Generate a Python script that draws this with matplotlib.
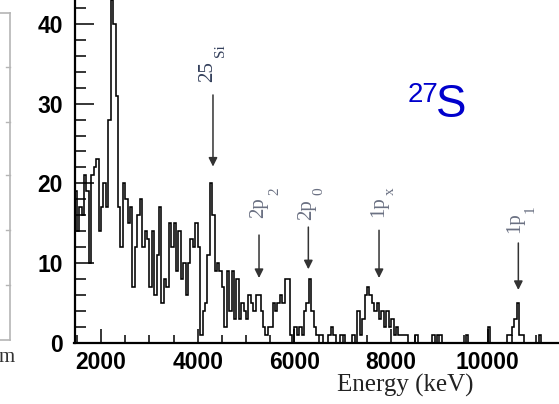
import numpy as np
import matplotlib
matplotlib.use("Agg")
import matplotlib.pyplot as plt
from matplotlib.lines import Line2D
from matplotlib.ticker import MultipleLocator

# ---- data -------------------------------------------------------------
bin_lo = 1450      # keV, first bin edge
bin_width = 50     # keV
counts = [
    19, 14, 17, 16, 21, 19, 10, 21, 22, 23, 14,             # 1450-1950
    17, 20, 17, 28, 43, 40, 31, 17, 12, 20,                 # 2000-2450
    18, 15, 17, 7, 12, 16, 18, 12, 14, 13,                  # 2500-2950
    7, 14, 6, 11, 17, 5, 8, 7, 15, 12,                      # 3000-3450
    15, 9, 14, 8, 10, 6, 10, 13, 12, 15,                    # 3500-3950
    12, 1, 4, 5, 11, 20, 16, 9, 10, 9,                      # 4000-4450
    7, 2, 9, 4, 9, 3, 8, 3, 5, 4,                           # 4500-4950
    3, 6, 5, 4, 6, 6, 4, 2, 1, 2,                           # 5000-5450
    2, 5, 4, 5, 6, 5, 8, 8, 1, 0,                           # 5500-5950
    2, 1, 2, 1, 4, 5, 8, 4, 2, 1,                           # 6000-6450
    1, 1, 0, 0, 1, 2, 1, 0, 0, 1,                           # 6500-6950
    1, 0, 0, 0, 1, 0, 4, 1, 3, 6,                           # 7000-7450
    7, 6, 5, 4, 5, 3, 4, 2, 4, 2,                           # 7500-7950
    3, 1, 2, 1, 1, 1, 1, 0, 0, 0,                           # 8000-8450
    1, 0, 0, 0, 0, 0, 0, 1, 0, 1,                           # 8500-8950
    1, 0, 0, 0, 0, 0, 0, 0, 0, 0,                           # 9000-9450
    0, 1, 0, 0, 0, 0, 0, 0, 0, 0,                           # 9500-9950
    2, 0, 0, 0, 0, 0, 0, 0, 1, 1,                           # 10000-10450
    2, 3, 5, 1, 1, 0, 0, 0, 0, 0,                           # 10500-10950
    0, 1,                                                   # 11000-11050
]

peak_main = ["25", "2p", "2p", "1p", "1p"]
peak_sub = ["Si", "2", "0", "x", "1"]
peak_energy = [4316, 5268, 6288, 7750, 10631]
arrow_tip = [22.1, 8.1, 9.2, 8.1, 6.6]
arrow_tail = [31.1, 13.5, 14.5, 14.1, 12.5]
label_x = [4203, 5268, 6250, 7739, 10563]
label_y = [32.7, 15.6, 15.4, 15.8, 13.8]
sub_dx = [12.5, 16, 12.5, 11.5, 15]     # px offset of subscript
sub_dy = [25, 23, 25, 22, 20]
label_color = ['#34405c', '#6a7082', '#6a7082', '#6a7082', '#6a7082']

xticks_major = [2000, 4000, 6000, 8000, 10000]
yticks_major = [0, 10, 20, 30, 40]

# ---- figure ------------------------------------------------------------
W, H = 559, 404
fig = plt.figure(figsize=(W / 100, H / 100), dpi=100)

def fx(px):
    return px / W

def fy(py):
    return 1 - py / H

ax_left, ax_bottom = 74.5, 342.5
ax = fig.add_axes([fx(ax_left), fy(ax_bottom), fx(W - ax_left), ax_bottom / H])

edges = bin_lo + bin_width * np.arange(len(counts) + 1)
ax.stairs(counts, edges, baseline=0, fill=False, color='black', lw=1.15)

ax.set_xlim(1452, 11472)
ax.set_ylim(0, 43.03)

for s in ('top', 'right'):
    ax.spines[s].set_visible(False)
for s in ('left', 'bottom'):
    ax.spines[s].set_linewidth(1.6)

ax.set_xticks(xticks_major)
ax.set_yticks(yticks_major)
ax.xaxis.set_minor_locator(MultipleLocator(500))
ax.yaxis.set_minor_locator(MultipleLocator(2))
ax.tick_params(axis='y', which='major', direction='in', length=13.5, width=1.1, pad=8.5)
ax.tick_params(axis='y', which='minor', direction='in', length=8, width=1.1)
ax.tick_params(axis='x', which='major', direction='in', length=10, width=1.1, pad=6)
ax.tick_params(axis='x', which='minor', direction='in', length=6, width=1.1)
for lab in ax.get_xticklabels() + ax.get_yticklabels():
    lab.set_fontfamily('Liberation Sans')
    lab.set_fontweight('bold')
    lab.set_fontsize(16.5)

# peak arrows and labels
pt = 0.72  # points per pixel at dpi 100
for m, sb, e, tip, tail, lx, ly, dx, dy, c in zip(peak_main, peak_sub, peak_energy,
                                                  arrow_tip, arrow_tail, label_x, label_y,
                                                  sub_dx, sub_dy, label_color):
    ax.annotate('', xy=(e, tip), xytext=(e, tail),
                arrowprops=dict(arrowstyle='-|>', color='#333333', lw=1.1,
                                mutation_scale=13, shrinkA=0, shrinkB=0))
    ax.text(lx, ly, m, rotation=90, ha='center', va='bottom', color=c,
            fontsize=15, fontfamily='Liberation Serif')
    ax.annotate(sb, xy=(lx, ly), xytext=(dx * pt, dy * pt), textcoords='offset points',
                rotation=90, ha='center', va='bottom', color=c,
                fontsize=11, fontfamily='Liberation Serif')

# nucleus label
fig.text(fx(408), fy(102), "27", color='#0000cc', fontsize=20,
         fontfamily='Liberation Sans', ha='left', va='baseline')
fig.text(fx(436), fy(117), "S", color='#0000cc', fontsize=33,
         fontfamily='Liberation Sans', ha='left', va='baseline')

# x axis title
fig.text(fx(405), fy(374), "Energy (keV)", fontfamily='Liberation Serif', fontsize=18,
         ha='center', va='top', color='#222222')

# remnants of the neighbouring panel on the left
grey = '#b5b5b5'
fig.add_artist(Line2D([fx(10), fx(10)], [fy(13), fy(340)], color=grey, lw=1.2))
fig.add_artist(Line2D([fx(0), fx(10)], [fy(13), fy(13)], color=grey, lw=1.2))
fig.add_artist(Line2D([fx(0), fx(10)], [fy(340), fy(340)], color=grey, lw=1.2))
for py in (67, 122, 175, 230, 285):
    fig.add_artist(Line2D([fx(6), fx(10)], [fy(py), fy(py)], color=grey, lw=1.0))
fig.text(fx(15), fy(362), "m", fontfamily='Liberation Serif', fontsize=15,
         ha='right', va='baseline', color='#333333')

fig.savefig("out.png", dpi=100)
